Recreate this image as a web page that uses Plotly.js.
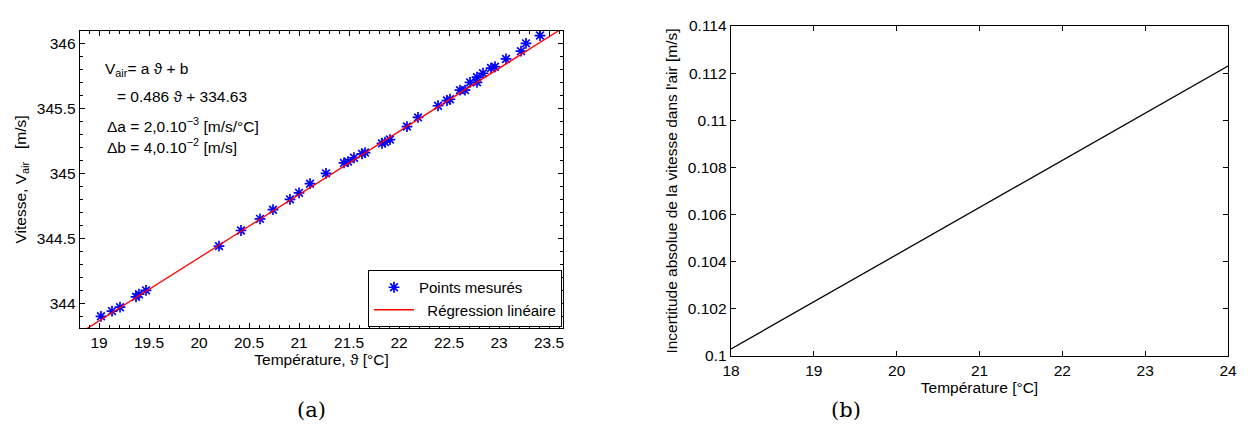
<!DOCTYPE html>
<html>
<head>
<meta charset="utf-8">
<script src="https://cdn.plot.ly/plotly-3.0.1.min.js"></script>
<style>html,body{margin:0;padding:0;background:#fff;}#chart{width:1248px;height:428px;}</style>
</head>
<body>
<div id="chart"></div>
<script>
// (a) measured points
const theta = [19.02,19.13,19.21,19.37,19.40,19.47,20.20,20.42,20.61,20.74,20.91,21.00,21.11,21.27,21.45,21.49,21.55,21.63,21.66,21.83,21.86,21.91,22.08,22.19,22.39,22.48,22.51,22.61,22.66,22.71,22.78,22.78,22.84,22.92,22.96,23.07,23.22,23.27,23.41];
const vitesse = [343.90,343.94,343.97,344.05,344.07,344.10,344.44,344.56,344.65,344.72,344.80,344.85,344.92,345.00,345.08,345.09,345.12,345.15,345.16,345.23,345.24,345.26,345.36,345.43,345.52,345.56,345.57,345.64,345.64,345.70,345.74,345.70,345.77,345.81,345.82,345.88,345.94,346.00,346.06];
// (a) regression line end points
const regTheta = [18.8, 23.7];
const regV = [343.767, 346.148];
// (b) uncertainty
const tempB = [18,19,20,21,22,23,24];
const incert = [0.1003,0.1023,0.1043,0.1063,0.1083,0.1103,0.1123];
// tick labels
const xTicksA = [19,19.5,20,20.5,21,21.5,22,22.5,23,23.5];
const yTicksA = [344,344.5,345,345.5,346];
const xTicksB = [18,19,20,21,22,23,24];
const yTicksB = [0.1,0.102,0.104,0.106,0.108,0.11,0.112,0.114];
const yTickTextB = ["0.1","0.102","0.104","0.106","0.108","0.11","0.112","0.114"];

const W = 1248, H = 428;
const px = v => v / W;
const py = v => 1 - v / H;
const FONT = "Liberation Sans, Arial, sans-serif";
const FS = 15.5;

const traces = [
  {x: theta, y: vitesse, type: 'scatter', mode: 'markers', name: 'Points mesurés',
   marker: {symbol: 'asterisk-open', size: 9, color: '#0000ff', line: {color: '#0000ff', width: 1.7}},
   xaxis: 'x', yaxis: 'y'},
  {x: regTheta, y: regV, type: 'scatter', mode: 'lines', name: '\u00a0\u00a0Régression linéaire',
   line: {color: '#ff0000', width: 1.3}, xaxis: 'x', yaxis: 'y'},
  {x: tempB, y: incert, type: 'scatter', mode: 'lines', showlegend: false,
   line: {color: '#000000', width: 1.3}, xaxis: 'x2', yaxis: 'y2'}
];

const axBase = {
  showgrid: false, zeroline: false, showline: true, linecolor: '#000', linewidth: 1.3,
  mirror: 'ticks', ticks: 'inside', ticklen: 5, tickcolor: '#000', tickwidth: 1,
  tickfont: {family: FONT, size: FS, color: '#000'}
};

const layout = {
  width: W, height: H,
  margin: {l: 0, r: 0, t: 0, b: 0},
  paper_bgcolor: '#fff', plot_bgcolor: '#fff',
  font: {family: FONT, size: FS, color: '#000'},
  showlegend: true,
  legend: {x: px(562), y: py(327), xanchor: 'right', yanchor: 'bottom',
    bordercolor: '#000', borderwidth: 1, bgcolor: '#fff',
    font: {family: FONT, size: 15, color: '#000'}, tracegroupgap: 0, itemwidth: 40},
  xaxis: Object.assign({}, axBase, {
    domain: [px(80), px(563)], range: [18.81, 23.64], anchor: 'y',
    tickvals: xTicksA, ticktext: xTicksA.map(String),
    minor: {dtick: 0.1, ticks: 'inside', ticklen: 3, tickcolor: '#000'},
    title: {text: 'Température, ϑ [°C]', font: {family: FONT, size: FS}, standoff: 3}
  }),
  yaxis: Object.assign({}, axBase, {
    domain: [py(328), py(31)], range: [343.81, 346.095], anchor: 'x',
    tickvals: yTicksA, ticktext: yTicksA.map(String),
    minor: {dtick: 0.1, ticks: 'inside', ticklen: 3, tickcolor: '#000'},
    title: {text: 'Vitesse, V<sub>air</sub>   [m/s]', font: {family: FONT, size: FS}, standoff: 6}
  }),
  xaxis2: Object.assign({}, axBase, {
    domain: [px(731), px(1228)], range: [18, 24], anchor: 'y2',
    tickvals: xTicksB, ticktext: xTicksB.map(String),
    title: {text: 'Température [°C]', font: {family: FONT, size: FS}, standoff: 3}
  }),
  yaxis2: Object.assign({}, axBase, {
    domain: [py(356), py(26)], range: [0.1, 0.114], anchor: 'x2',
    tickvals: yTicksB, ticktext: yTickTextB,
    title: {text: "Incertitude absolue de la vitesse dans l'air [m/s]", font: {family: FONT, size: FS}, standoff: 6}
  }),
  annotations: [
    {xref: 'paper', yref: 'paper', x: px(103), y: py(70), xanchor: 'left', yanchor: 'middle', showarrow: false,
     text: 'V<sub>air</sub>= a ϑ + b', font: {family: FONT, size: FS}},
    {xref: 'paper', yref: 'paper', x: px(115), y: py(96), xanchor: 'left', yanchor: 'middle', showarrow: false,
     text: '= 0.486 ϑ + 334.63', font: {family: FONT, size: FS}},
    {xref: 'paper', yref: 'paper', x: px(105), y: py(125), xanchor: 'left', yanchor: 'middle', showarrow: false,
     text: 'Δa = 2,0.10<sup>−3</sup> [m/s/°C]', font: {family: FONT, size: FS}},
    {xref: 'paper', yref: 'paper', x: px(105), y: py(146), xanchor: 'left', yanchor: 'middle', showarrow: false,
     text: 'Δb = 4,0.10<sup>−2</sup> [m/s]', font: {family: FONT, size: FS}},
    {xref: 'paper', yref: 'paper', x: px(311), y: py(410), xanchor: 'center', yanchor: 'middle', showarrow: false,
     text: '(a)', font: {family: 'DejaVu Serif, Liberation Serif, serif', size: 21}},
    {xref: 'paper', yref: 'paper', x: px(846), y: py(410), xanchor: 'center', yanchor: 'middle', showarrow: false,
     text: '(b)', font: {family: 'DejaVu Serif, Liberation Serif, serif', size: 21}}
  ]
};

Plotly.newPlot('chart', traces, layout, {staticPlot: true, displayModeBar: false});
</script>
</body>
</html>
